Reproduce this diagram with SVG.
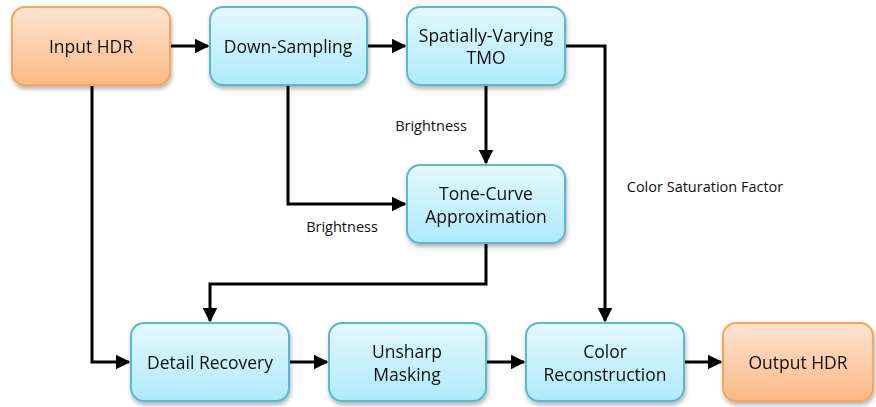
<svg xmlns="http://www.w3.org/2000/svg" width="876" height="407" viewBox="0 0 876 407">
<style>
.blue{fill:url(#gb);stroke:#5ab7d1;stroke-width:2}
.orange{fill:url(#go);stroke:#f6a55a;stroke-width:2}
.t{font-family:"Open Sans","Liberation Sans",sans-serif;font-size:17.5px;fill:#111;text-anchor:middle}
.l{font-family:"Open Sans","Liberation Sans",sans-serif;font-size:14.5px;fill:#111;text-anchor:middle}
.c{fill:none;stroke:#000;stroke-width:3;marker-end:url(#ah)}
</style>
<defs>
<linearGradient id="gb" x1="0" y1="0" x2="0" y2="1"><stop offset="0" stop-color="#e4f8fe"/><stop offset="1" stop-color="#aeeafb"/></linearGradient>
<linearGradient id="go" x1="0" y1="0" x2="0" y2="1"><stop offset="0" stop-color="#fee4d2"/><stop offset="1" stop-color="#fbb985"/></linearGradient>
<filter id="sh" x="-10%" y="-10%" width="130%" height="130%"><feGaussianBlur in="SourceAlpha" stdDeviation="2"/><feOffset dx="1" dy="3"/><feComponentTransfer><feFuncA type="linear" slope="0.3"/></feComponentTransfer><feMerge><feMergeNode/><feMergeNode in="SourceGraphic"/></feMerge></filter>
<marker id="ah" markerWidth="5" markerHeight="5" refX="4.5" refY="2.5" orient="auto" markerUnits="strokeWidth"><path d="M0,0 L5,2.5 L0,5 z" fill="#000"/></marker>
</defs>
<g id="connectors">
<path class="c" d="M171,46 H208"/>
<path class="c" d="M368,46 H405"/>
<path class="c" d="M566,46 H605 V321"/>
<path class="c" d="M486,86 V163"/>
<path class="c" d="M288,86 V204 H405"/>
<path class="c" d="M486,244 V284 H210 V321"/>
<path class="c" d="M92,86 V362 H129"/>
<path class="c" d="M289,362 H327"/>
<path class="c" d="M487,362 H524"/>
<path class="c" d="M684,362 H721"/>
</g>
<g id="labels">
<text class="l" x="431" y="131">Brightness</text>
<text class="l" x="342" y="232">Brightness</text>
<text class="l" x="705" y="192">Color Saturation Factor</text>
</g>
<g id="input-hdr" filter="url(#sh)"><rect class="orange" x="12" y="7" width="158" height="78" rx="13"/><text class="t" x="91" y="53">Input HDR</text></g>
<g id="down-sampling" filter="url(#sh)"><rect class="blue" x="210" y="7" width="157" height="78" rx="13"/><text class="t" x="288" y="53">Down-Sampling</text></g>
<g id="spatially-varying-tmo" filter="url(#sh)"><rect class="blue" x="407" y="7" width="158" height="78" rx="13"/><text class="t" x="486" y="42">Spatially-Varying</text><text class="t" x="486" y="64">TMO</text></g>
<g id="tone-curve" filter="url(#sh)"><rect class="blue" x="407" y="165" width="158" height="78" rx="13"/><text class="t" x="486" y="200">Tone-Curve</text><text class="t" x="486" y="223">Approximation</text></g>
<g id="detail-recovery" filter="url(#sh)"><rect class="blue" x="131" y="323" width="158" height="78" rx="13"/><text class="t" x="210" y="369">Detail Recovery</text></g>
<g id="unsharp-masking" filter="url(#sh)"><rect class="blue" x="329" y="323" width="157" height="78" rx="13"/><text class="t" x="407" y="358">Unsharp</text><text class="t" x="407" y="381">Masking</text></g>
<g id="color-reconstruction" filter="url(#sh)"><rect class="blue" x="526" y="323" width="158" height="78" rx="13"/><text class="t" x="605" y="358">Color</text><text class="t" x="605" y="381">Reconstruction</text></g>
<g id="output-hdr" filter="url(#sh)"><rect class="orange" x="723" y="323" width="150" height="78" rx="13"/><text class="t" x="798" y="369">Output HDR</text></g>
</svg>
